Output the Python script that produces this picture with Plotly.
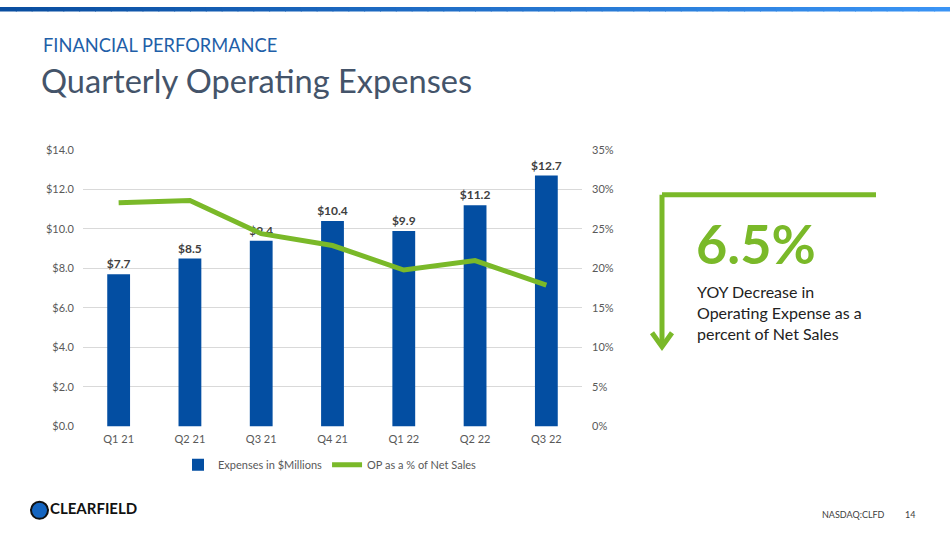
import plotly.graph_objects as go

# data
quarters = ["Q1 21", "Q2 21", "Q3 21", "Q4 21", "Q1 22", "Q2 22", "Q3 22"]
expenses = [7.7, 8.5, 9.4, 10.4, 9.9, 11.2, 12.7]
op_pct = [28.3, 28.6, 24.4, 22.9, 19.8, 21.0, 17.9]
left_ticks = [0, 2, 4, 6, 8, 10, 12, 14]
right_ticks = [0, 5, 10, 15, 20, 25, 30, 35]

W, H = 950, 534
FONT = "Lato"
BLUE = "#034EA2"
GREEN = "#7AB929"
GRAY = "#595959"

# the photographed page comes out squeezed a little vertically (about 5.5px
# down and 97.5% tall), so slide pixel rows are mapped back before placing
V_OFF, V_SCALE = 5.5, 0.975


def px(x):
    return x / W


def py(y):
    return 1 - ((y - V_OFF) / V_SCALE) / H


fig = go.Figure()
fig.add_trace(go.Bar(
    x=quarters, y=expenses, name="Expenses in $Millions",
    marker=dict(color=BLUE, line=dict(width=0)),
    texttemplate="<b>$%{y:.1f}</b>", textposition="outside", constraintext="none",
    textfont=dict(size=12, color="#404040", family=FONT),
    cliponaxis=False,
))
fig.add_trace(go.Scatter(
    x=quarters, y=op_pct, name="OP as a % of Net Sales", yaxis="y2",
    mode="lines", line=dict(color=GREEN, width=5),
))

fig.update_layout(
    width=W, height=H, autosize=False,
    margin=dict(l=0, r=0, t=0, b=0),
    paper_bgcolor="white", plot_bgcolor="white",
    font=dict(family=FONT, size=11, color=GRAY),
    bargap=0.68,
    showlegend=True,
    legend=dict(orientation="h", x=px(330), y=py(463), xanchor="center", yanchor="middle",
                font=dict(size=11, color=GRAY), bgcolor="rgba(0,0,0,0)"),
    xaxis=dict(domain=[px(83), px(582)], showgrid=False, zeroline=False,
               ticks="", showline=False, ticklabelstandoff=5,
               tickfont=dict(size=11, color=GRAY)),
    yaxis=dict(domain=[py(424.7), py(148.3)], range=[0, 14], tickvals=left_ticks,
               ticktext=["$%.1f" % v for v in left_ticks], showgrid=True,
               gridcolor="#d9d9d9", gridwidth=1, zeroline=False, ticks="",
               ticklabelstandoff=8, tickfont=dict(size=11, color=GRAY)),
    yaxis2=dict(overlaying="y", side="right", range=[0, 35], tickvals=right_ticks,
                ticktext=["%d%%" % v for v in right_ticks], showgrid=False,
                zeroline=False, ticks="", ticklabelstandoff=9,
                tickfont=dict(size=11, color=GRAY)),
)

# gradient band across the top
n = 60
for i in range(n):
    t = i / (n - 1)
    r = int(10 + (58 - 10) * t)
    g = int(78 + (148 - 78) * t)
    b = int(160 + (245 - 160) * t)
    fig.add_shape(type="rect", xref="paper", yref="paper",
                  x0=i / n, x1=(i + 1) / n + 0.001, y0=py(10), y1=1,
                  fillcolor="rgb(%d,%d,%d)" % (r, g, b), line=dict(width=0), layer="above")

# headings
fig.add_annotation(text="FINANCIAL PERFORMANCE", x=px(41), y=py(43.5), xref="paper", yref="paper",
                   xanchor="left", yanchor="middle", showarrow=False,
                   font=dict(family=FONT, size=18.3, color="#1F5FA8"))
fig.add_annotation(text="Quarterly Operating Expenses", x=px(39), y=py(79), xref="paper", yref="paper",
                   xanchor="left", yanchor="middle", showarrow=False,
                   font=dict(family=FONT, size=32.6, color="#44546A"))

# green bracket arrow on the right
fig.add_shape(type="line", xref="paper", yref="paper", x0=px(662), x1=px(876), y0=py(193), y1=py(193),
              line=dict(color=GREEN, width=5))
fig.add_shape(type="line", xref="paper", yref="paper", x0=px(662), x1=px(662), y0=py(193), y1=py(344),
              line=dict(color=GREEN, width=5))
fig.add_shape(type="path", xref="paper", yref="paper",
              path="M %f %f L %f %f L %f %f" % (px(652), py(331), px(662), py(345), px(672), py(331)),
              line=dict(color=GREEN, width=5))

fig.add_annotation(text="<b>6.5%</b>", x=px(694), y=py(241.5), xref="paper", yref="paper",
                   xanchor="left", yanchor="middle", showarrow=False,
                   font=dict(family=FONT, size=54, color=GREEN))
fig.add_annotation(text="YOY Decrease in<br>Operating Expense as a<br>percent of Net Sales",
                   x=px(695), y=py(311), xref="paper", yref="paper",
                   xanchor="left", yanchor="middle", align="left", showarrow=False,
                   font=dict(family=FONT, size=16, color="#222222"))

# footer logo
fig.add_shape(type="circle", xref="paper", yref="paper",
              x0=px(31), x1=px(48), y0=py(517), y1=py(500),
              fillcolor="#1565C0", line=dict(color="#111111", width=2))
fig.add_annotation(text="<b>CLEARFIELD</b>", x=px(48), y=py(506), xref="paper", yref="paper",
                   xanchor="left", yanchor="middle", showarrow=False,
                   font=dict(family=FONT, size=15, color="#111111"))
fig.add_annotation(text="NASDAQ:CLFD", x=px(887), y=py(512.5), xref="paper", yref="paper",
                   xanchor="right", yanchor="middle", showarrow=False,
                   font=dict(family=FONT, size=9, color="#404040"))
fig.add_annotation(text="14", x=px(910), y=py(512.5), xref="paper", yref="paper",
                   xanchor="center", yanchor="middle", showarrow=False,
                   font=dict(family=FONT, size=9, color="#404040"))

# pin the figure to the window's top-left corner
pin = ("var gd=document.getElementById('{plot_id}');"
       "gd.style.position='fixed';gd.style.left='0px';gd.style.top='0px';"
       "document.body.style.margin='0';document.body.style.overflow='hidden';"
       "document.documentElement.style.overflow='hidden';")
fig.write_html("out.html", config={"displayModeBar": False}, post_script=pin)
